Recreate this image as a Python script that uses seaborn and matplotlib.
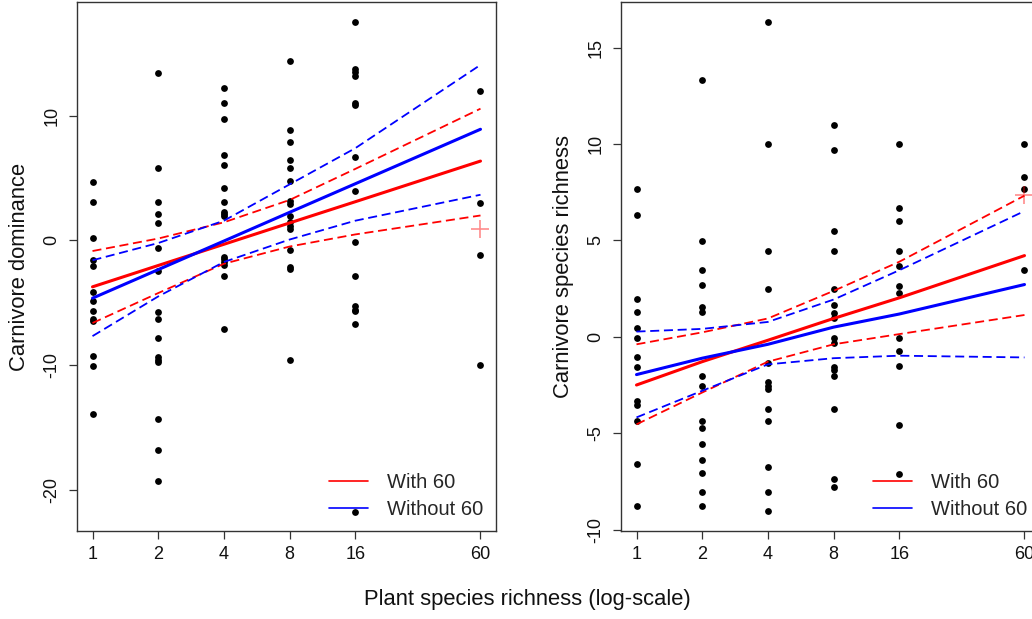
import numpy as np
import pandas as pd
import matplotlib
matplotlib.use("Agg")
import matplotlib.pyplot as plt
from matplotlib.lines import Line2D
import seaborn as sns

# ---------------- data ----------------
plant_levels = [1, 2, 4, 8, 16, 60]
tick_labels = ["1", "2", "4", "8", "16", "60"]

# Carnivore dominance (left panel)
dom_1 = [4.67, 3.09, 0.19, -1.6, -2.07, -4.17, -4.86, -5.69, -6.3, -6.44, -9.25, -10.1, -13.9]
dom_2 = [13.4, 5.83, 3.09, 2.13, 1.41, -0.58, -2.49, -5.75, -6.3, -7.87, -9.34, -9.56, -9.75, -14.3, -16.8, -19.3]
dom_4 = [12.2, 11.0, 9.72, 6.85, 6.05, 4.23, 3.09, 2.27, 2.07, 1.91, -1.33, -1.52, -1.74, -1.96, -2.85, -7.07]
dom_8 = [14.36, 8.87, 7.85, 6.41, 5.77, 4.78, 3.12, 2.9, 1.91, 1.49, 1.16, 0.88, -0.77, -2.15, -2.29, -9.61]
dom_16 = [17.5, 13.7, 13.45, 13.2, 11.0, 10.83, 6.69, 3.98, -0.14, -2.9, -5.28, -5.55, -5.69, -6.71, -21.8]
dom_60 = [11.93, 2.96, -1.19, -9.97]
dom_plus = 0.94

dom_with_fit = [-3.73, -2.02, -0.32, 1.39, 3.09, 6.35]
dom_with_upr = [-0.86, 0.14, 1.44, 3.23, 5.72, 10.55]
dom_with_lwr = [-6.63, -4.23, -1.88, -0.5, 0.47, 1.99]
dom_without_fit = [-4.64, -2.35, -0.06, 2.24, 4.53, 8.9]
dom_without_upr = [-1.6, -0.22, 1.57, 4.48, 7.38, 14.06]
dom_without_lwr = [-7.68, -4.5, -1.74, 0.06, 1.57, 3.65]

# Carnivore species richness (right panel)
rich_1 = [7.68, 6.29, 1.96, 1.29, 0.45, -0.04, -1.04, -1.55, -3.34, -3.52, -4.36, -6.59, -8.79]
rich_2 = [13.3, 4.96, 3.46, 2.66, 1.52, 1.29, -2.04, -2.57, -4.36, -4.75, -5.57, -6.38, -7.07, -8.07, -8.79]
rich_4 = [16.34, 10.02, 4.46, 2.46, -1.38, -2.36, -2.54, -2.71, -3.75, -4.36, -6.75, -8.07, -9.05]
rich_8 = [11.0, 9.68, 5.46, 4.46, 2.46, 1.66, 1.25, 0.95, -0.04, -0.3, -1.55, -1.73, -2.04, -3.75, -7.36, -7.77]
rich_16 = [10.0, 6.68, 5.98, 4.46, 3.68, 2.64, 2.29, -0.04, -0.75, -1.52, -4.55, -7.09]
rich_60 = [10.0, 8.3, 7.68, 3.48]
rich_plus = 7.37

rich_with_fit = [-2.5, -1.29, -0.18, 0.95, 2.02, 4.21]
rich_with_upr = [-0.39, 0.23, 0.95, 2.38, 3.89, 7.32]
rich_with_lwr = [-4.54, -2.89, -1.29, -0.39, 0.14, 1.13]
rich_without_fit = [-1.96, -1.11, -0.39, 0.5, 1.18, 2.71]
rich_without_upr = [0.27, 0.41, 0.77, 1.93, 3.45, 6.52]
rich_without_lwr = [-4.18, -2.8, -1.43, -1.11, -0.98, -1.07]

legend_labels = ["With 60", "Without 60"]
ylabels = ["Carnivore dominance", "Carnivore species richness"]
xlabel = "Plant species richness (log-scale)"

# ---------------- style ----------------
sns.set_theme(style="ticks")
plt.rcParams["font.family"] = ["Liberation Sans", "DejaVu Sans"]
plt.rcParams["axes.edgecolor"] = "#333333"
plt.rcParams["axes.linewidth"] = 1.0

W, H = 1032, 619
fig = plt.figure(figsize=(W / 100, H / 100), dpi=100)

def px_axes(left, top, right, bottom):
    return fig.add_axes([left / W, 1 - bottom / H, (right - left) / W, (bottom - top) / H])

ax1 = px_axes(77, 2, 496, 531)
ax2 = px_axes(621, 2, 1040, 531)

RED = "#ff0000"
BLUE = "#0000ff"

def build_points(cols):
    xs, ys = [], []
    for lvl, vals in zip(plant_levels, cols):
        xs += [lvl] * len(vals)
        ys += vals
    return pd.DataFrame({"x": xs, "y": ys})

def panel(ax, cols, fits, plus_val, ylim, yticks, ylabel, legend_shift):
    df = build_points(cols)
    sns.scatterplot(data=df, x="x", y="y", ax=ax, color="black", s=24,
                    edgecolor="black", linewidth=0, zorder=3)
    (wfit, wupr, wlwr, ofit, oupr, olwr) = fits
    for vals, col in [(wfit, RED), (ofit, BLUE)]:
        sns.lineplot(x=plant_levels, y=vals, ax=ax, color=col, lw=2.2,
                     estimator=None, sort=False, zorder=4)
    for vals, col in [(wupr, RED), (wlwr, RED), (oupr, BLUE), (olwr, BLUE)]:
        sns.lineplot(x=plant_levels, y=vals, ax=ax, color=col, lw=1.3,
                     estimator=None, sort=False, zorder=4)
        ax.lines[-1].set_dashes((5, 2.6))
    ax.plot([60], [plus_val], marker="+", color=RED, alpha=0.45,
            markersize=13, mew=1.2, linestyle="none", zorder=5)
    ax.set_xscale("log", base=2)
    ax.set_xlim(2 ** (-0.236), 60 * 2 ** 0.236)
    ax.set_xticks(plant_levels)
    ax.set_xticklabels(tick_labels)
    ax.minorticks_off()
    ax.set_ylim(*ylim)
    ax.set_yticks(yticks)
    ax.set_yticklabels([str(t) for t in yticks], rotation=90, va="center")
    ax.tick_params(axis="both", direction="out", length=6, width=0.9,
                   color="#333333", labelsize=13, labelcolor="#111111")
    ax.tick_params(axis="x", pad=5)
    ax.tick_params(axis="y", pad=6)
    ax.set_xlabel("")
    ax.set_ylabel(ylabel, fontsize=15.8, color="#111111")
    ax.yaxis.set_label_coords(-0.112, 0.5)
    for sp in ax.spines.values():
        sp.set_visible(True)
    handles = [Line2D([], [], color=RED, lw=1.2), Line2D([], [], color=BLUE, lw=1.2)]
    ax.legend(handles, legend_labels, loc="lower right", frameon=False,
              fontsize=14.5, handlelength=1.9, handletextpad=0.95,
              labelspacing=0.36, borderaxespad=0.0,
              bbox_to_anchor=(1 - legend_shift, 0.008))

panel(ax1, [dom_1, dom_2, dom_4, dom_8, dom_16, dom_60],
      (dom_with_fit, dom_with_upr, dom_with_lwr, dom_without_fit, dom_without_upr, dom_without_lwr),
      dom_plus, (-23.3, 19.1), [-20, -10, 0, 10], ylabels[0], 0.012)
panel(ax2, [rich_1, rich_2, rich_4, rich_8, rich_16, rich_60],
      (rich_with_fit, rich_with_upr, rich_with_lwr, rich_without_fit, rich_without_upr, rich_without_lwr),
      rich_plus, (-10.07, 17.36), [-10, -5, 0, 5, 10, 15], ylabels[1], 0.012)

fig.text(527 / W, 1 - 600 / H, xlabel, ha="center", va="center", fontsize=15.8, color="#111111")

fig.savefig("out.png", dpi=100)
